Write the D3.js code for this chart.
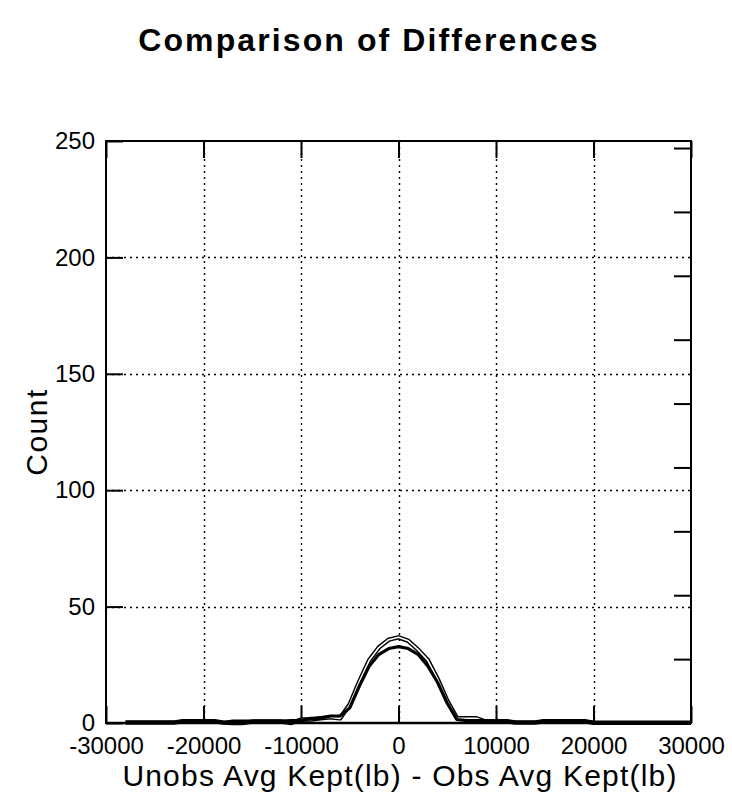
<!DOCTYPE html>
<html><head><meta charset="utf-8">
<script src="https://cdn.jsdelivr.net/npm/d3@7"></script>
<style>body{margin:0;background:#fff}svg{display:block}</style>
</head><body><svg id="c" width="732" height="801"></svg>
<script>
// ---- data ----
const xValues = [-28000,-27000,-26000,-25000,-24000,-23000,-22000,-21000,-20000,-19000,-18000,-17000,-16000,-15000,-14000,-13000,-12000,-11000,-10000,-9000,-8000,-7000,-6000,-5000,-4000,-3000,-2000,-1000,0,1000,2000,3000,4000,5000,6000,7000,8000,9000,10000,11000,12000,13000,14000,15000,16000,17000,18000,19000,20000,21000,22000,23000,24000,25000,26000,27000,28000,29000,30000];
const seriesSolid = [0.3,0.3,0.3,0.3,0.3,0.3,1,1,1,1,0.2,0.8,0.8,0.8,0.8,0.8,0.8,1,1,2,2,3,3,6.5,16,24.5,29.5,32,32.8,32,29.5,24.5,17.5,8.5,1.5,1,1,1,1,1,0.3,0.3,0.3,1,1,1,1,1,0.2,0.2,0.2,0.2,0.2,0.2,0.2,0.2,0.2,0.2,0.2];
const seriesHollow = [0.2,0.2,0.2,0.2,0.2,0.2,0.8,0.8,0.8,0.8,0.2,0,0,0.6,0.6,0.6,0.6,0,1.5,1.5,2,2.5,2,8,18,27,32.5,35.8,36.8,35.3,31.5,27,19,9.5,2,2,2,0.5,0.8,0.8,0.2,0.2,0.2,0.8,0.8,0.8,0.8,0.8,0.1,0.1,0.1,0.1,0.1,0.1,0.1,0.1,0.1,0.1,0.1];
const xTicks = [-30000,-20000,-10000,0,10000,20000,30000];
const yTicks = [0,50,100,150,200,250];
const rightTicks = [0.1,0.2,0.3,0.4,0.5,0.6,0.7,0.8,0.9];
const titleText = "Comparison of Differences";
const xLabelText = "Unobs Avg Kept(lb) - Obs Avg Kept(lb)";
const yLabelText = "Count";

// ---- layout ----
const L = 106, R = 691, T = 141, B = 723;
const svg = d3.select("#c");
const x = d3.scaleLinear().domain([-30000, 30000]).range([L, R]);
const y = d3.scaleLinear().domain([0, 250]).range([B, T]);
const y2 = d3.scaleLinear().domain([0, 0.911]).range([B, T]);
const font = "Arial, 'Liberation Sans', Helvetica, sans-serif";
const TL = 17;

// grid
const grid = svg.append("g").attr("stroke", "#000").attr("stroke-width", 1.4).attr("stroke-dasharray", "2,4");
grid.selectAll("line.gx").data(xTicks.filter(d => d > -30000 && d < 30000)).join("line")
  .attr("x1", d => Math.round(x(d)) + 0.5).attr("x2", d => Math.round(x(d)) + 0.5)
  .attr("y1", T).attr("y2", B);
grid.selectAll("line.gy").data(yTicks.filter(d => d > 0 && d < 250)).join("line")
  .attr("class", "gy")
  .attr("y1", d => Math.round(y(d)) + 0.5).attr("y2", d => Math.round(y(d)) + 0.5)
  .attr("x1", L).attr("x2", R);

// axes
const fmt = d => String(d);
const axB = svg.append("g").attr("transform", `translate(0,${B})`)
  .call(d3.axisBottom(x).tickValues(xTicks).tickSizeInner(-TL).tickSizeOuter(0).tickPadding(14).tickFormat(fmt));
const axT = svg.append("g").attr("transform", `translate(0,${T})`)
  .call(d3.axisTop(x).tickValues(xTicks).tickSizeInner(-TL).tickSizeOuter(0).tickFormat(""));
const axL = svg.append("g").attr("transform", `translate(${L},0)`)
  .call(d3.axisLeft(y).tickValues(yTicks).tickSizeInner(-TL).tickSizeOuter(0).tickPadding(11).tickFormat(fmt));
const axR = svg.append("g").attr("transform", `translate(${R},0)`)
  .call(d3.axisRight(y2).tickValues(rightTicks).tickSizeInner(-TL).tickSizeOuter(0).tickFormat(""));
[axB, axT, axL, axR].forEach(a => {
  a.select(".domain").remove();
  a.selectAll(".tick line").attr("stroke", "#000").attr("stroke-width", 2);
  a.selectAll("text").attr("fill", "#000").style("font-family", font).style("font-size", "24px");
});

// box
svg.append("rect").attr("x", L).attr("y", T).attr("width", R - L).attr("height", B - T)
  .attr("fill", "none").attr("stroke", "#000").attr("stroke-width", 2);

// lines
const pts = vals => xValues.map((xv, i) => [xv, vals[i]]);
const line = d3.line().x(d => x(d[0])).y(d => y(d[1]));
svg.append("path").datum(pts(seriesHollow)).attr("d", line)
  .attr("fill", "none").attr("stroke", "#000").attr("stroke-width", 4.5).attr("stroke-linejoin", "round");
svg.append("path").datum(pts(seriesHollow)).attr("d", line)
  .attr("fill", "none").attr("stroke", "#fff").attr("stroke-width", 1.6).attr("stroke-linejoin", "round");
svg.append("path").datum(pts(seriesSolid)).attr("d", line)
  .attr("fill", "none").attr("stroke", "#000").attr("stroke-width", 3.2).attr("stroke-linejoin", "round");

// bottom baseline thickening
svg.append("line").attr("x1", L).attr("x2", R).attr("y1", B).attr("y2", B).attr("stroke", "#000").attr("stroke-width", 2.5);

// texts
svg.append("text").attr("x", 369).attr("y", 51).attr("text-anchor", "middle")
  .style("font-family", font).style("font-size", "32px").style("font-weight", "bold").style("letter-spacing", "2.1px")
  .text(titleText);
svg.append("text").attr("x", 400).attr("y", 786).attr("text-anchor", "middle")
  .style("font-family", font).style("font-size", "30px").style("letter-spacing", "1.2px")
  .text(xLabelText);
svg.append("text").attr("transform", "translate(47,432) rotate(-90)").attr("text-anchor", "middle")
  .style("font-family", font).style("font-size", "30px").style("letter-spacing", "1.5px")
  .text(yLabelText);
</script>
</body></html>
